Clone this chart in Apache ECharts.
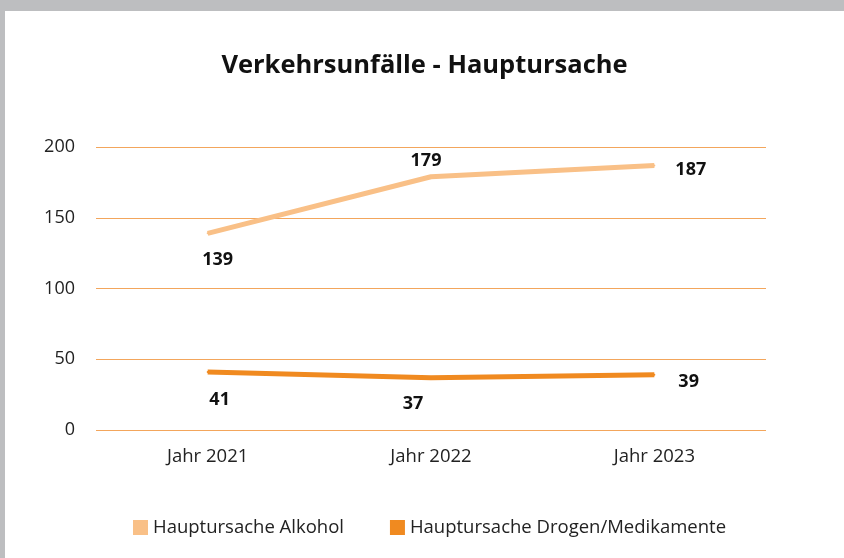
<!DOCTYPE html>
<html>
<head>
<meta charset="utf-8">
<script src="https://cdn.jsdelivr.net/npm/echarts@6/dist/echarts.min.js"></script>
<style>
    html, body {margin: 0; padding: 0; background: #bdbec0; width: 844px; height: 558px; overflow: hidden;}
    #chart {position: absolute; left: 5px; top: 11px; width: 839px; height: 547px; background: #fff;}
</style>
</head>
<body>
<div id="chart"></div>
<script>
    var years = ['Jahr 2021', 'Jahr 2022', 'Jahr 2023'];
    var alkohol = [139, 179, 187];
    var drogen = [41, 37, 39];
    var seriesNames = ['Hauptursache Alkohol', 'Hauptursache Drogen/Medikamente'];

    var font = '"Open Sans", "Noto Sans", sans-serif';

    //label position pro punkt
    var alkLabels = [
        {position: 'bottom', distance: 17, offset: [10, 0]},
        {position: 'top', distance: 6, offset: [-5, 0]},
        {position: 'right', distance: 20, offset: [0, 4]}
    ];
    var droLabels = [
        {position: 'bottom', distance: 18, offset: [12, 0]},
        {position: 'bottom', distance: 16, offset: [-18, 0]},
        {position: 'right', distance: 23, offset: [0, 7]}
    ];

    function withLabels(values, labels) {
        return values.map(function (v, i) {
            return {value: v, label: labels[i]};
        });
    }

    var chart = echarts.init(document.getElementById('chart'));
    chart.setOption({
        animation: false,
        title: {
            text: 'Verkehrsunfälle - Hauptursache',
            left: 'center',
            top: 37,
            textStyle: {
                fontFamily: font,
                fontSize: 25.5,
                fontWeight: 'bold',
                color: '#111'
            }
        },
        grid: {
            left: 91,
            top: 136,
            width: 670,
            height: 283
        },
        legend: {
            data: seriesNames,
            bottom: 16,
            left: 123,
            icon: 'rect',
            itemWidth: 15,
            itemHeight: 15,
            itemGap: 46,
            textStyle: {fontFamily: font, fontSize: 18.5, color: '#222'}
        },
        xAxis: {
            type: 'category',
            data: years,
            boundaryGap: true,
            axisLine: {show: false},
            axisTick: {show: false},
            axisLabel: {fontFamily: font, fontSize: 18.5, color: '#222', margin: 17}
        },
        yAxis: {
            type: 'value',
            min: 0,
            max: 200,
            interval: 50,
            axisLine: {show: false},
            axisTick: {show: false},
            axisLabel: {fontFamily: font, fontSize: 18, color: '#222', margin: 21},
            splitLine: {lineStyle: {color: '#f3a65c', width: 1}}
        },
        series: [
            {
                name: seriesNames[0],
                type: 'line',
                data: withLabels(alkohol, alkLabels),
                symbol: 'circle',
                symbolSize: 2,
                showSymbol: true,
                color: '#f9c087',
                itemStyle: {color: '#f9c087'},
                lineStyle: {width: 5, color: '#f9c087'},
                label: {show: true, fontFamily: font, fontSize: 18, fontWeight: 'bold', color: '#111'}
            },
            {
                name: seriesNames[1],
                type: 'line',
                data: withLabels(drogen, droLabels),
                symbol: 'circle',
                symbolSize: 2,
                showSymbol: true,
                color: '#f08a20',
                itemStyle: {color: '#f08a20'},
                lineStyle: {width: 5, color: '#f08a20'},
                label: {show: true, fontFamily: font, fontSize: 18, fontWeight: 'bold', color: '#111'}
            }
        ]
    });
</script>
</body>
</html>
